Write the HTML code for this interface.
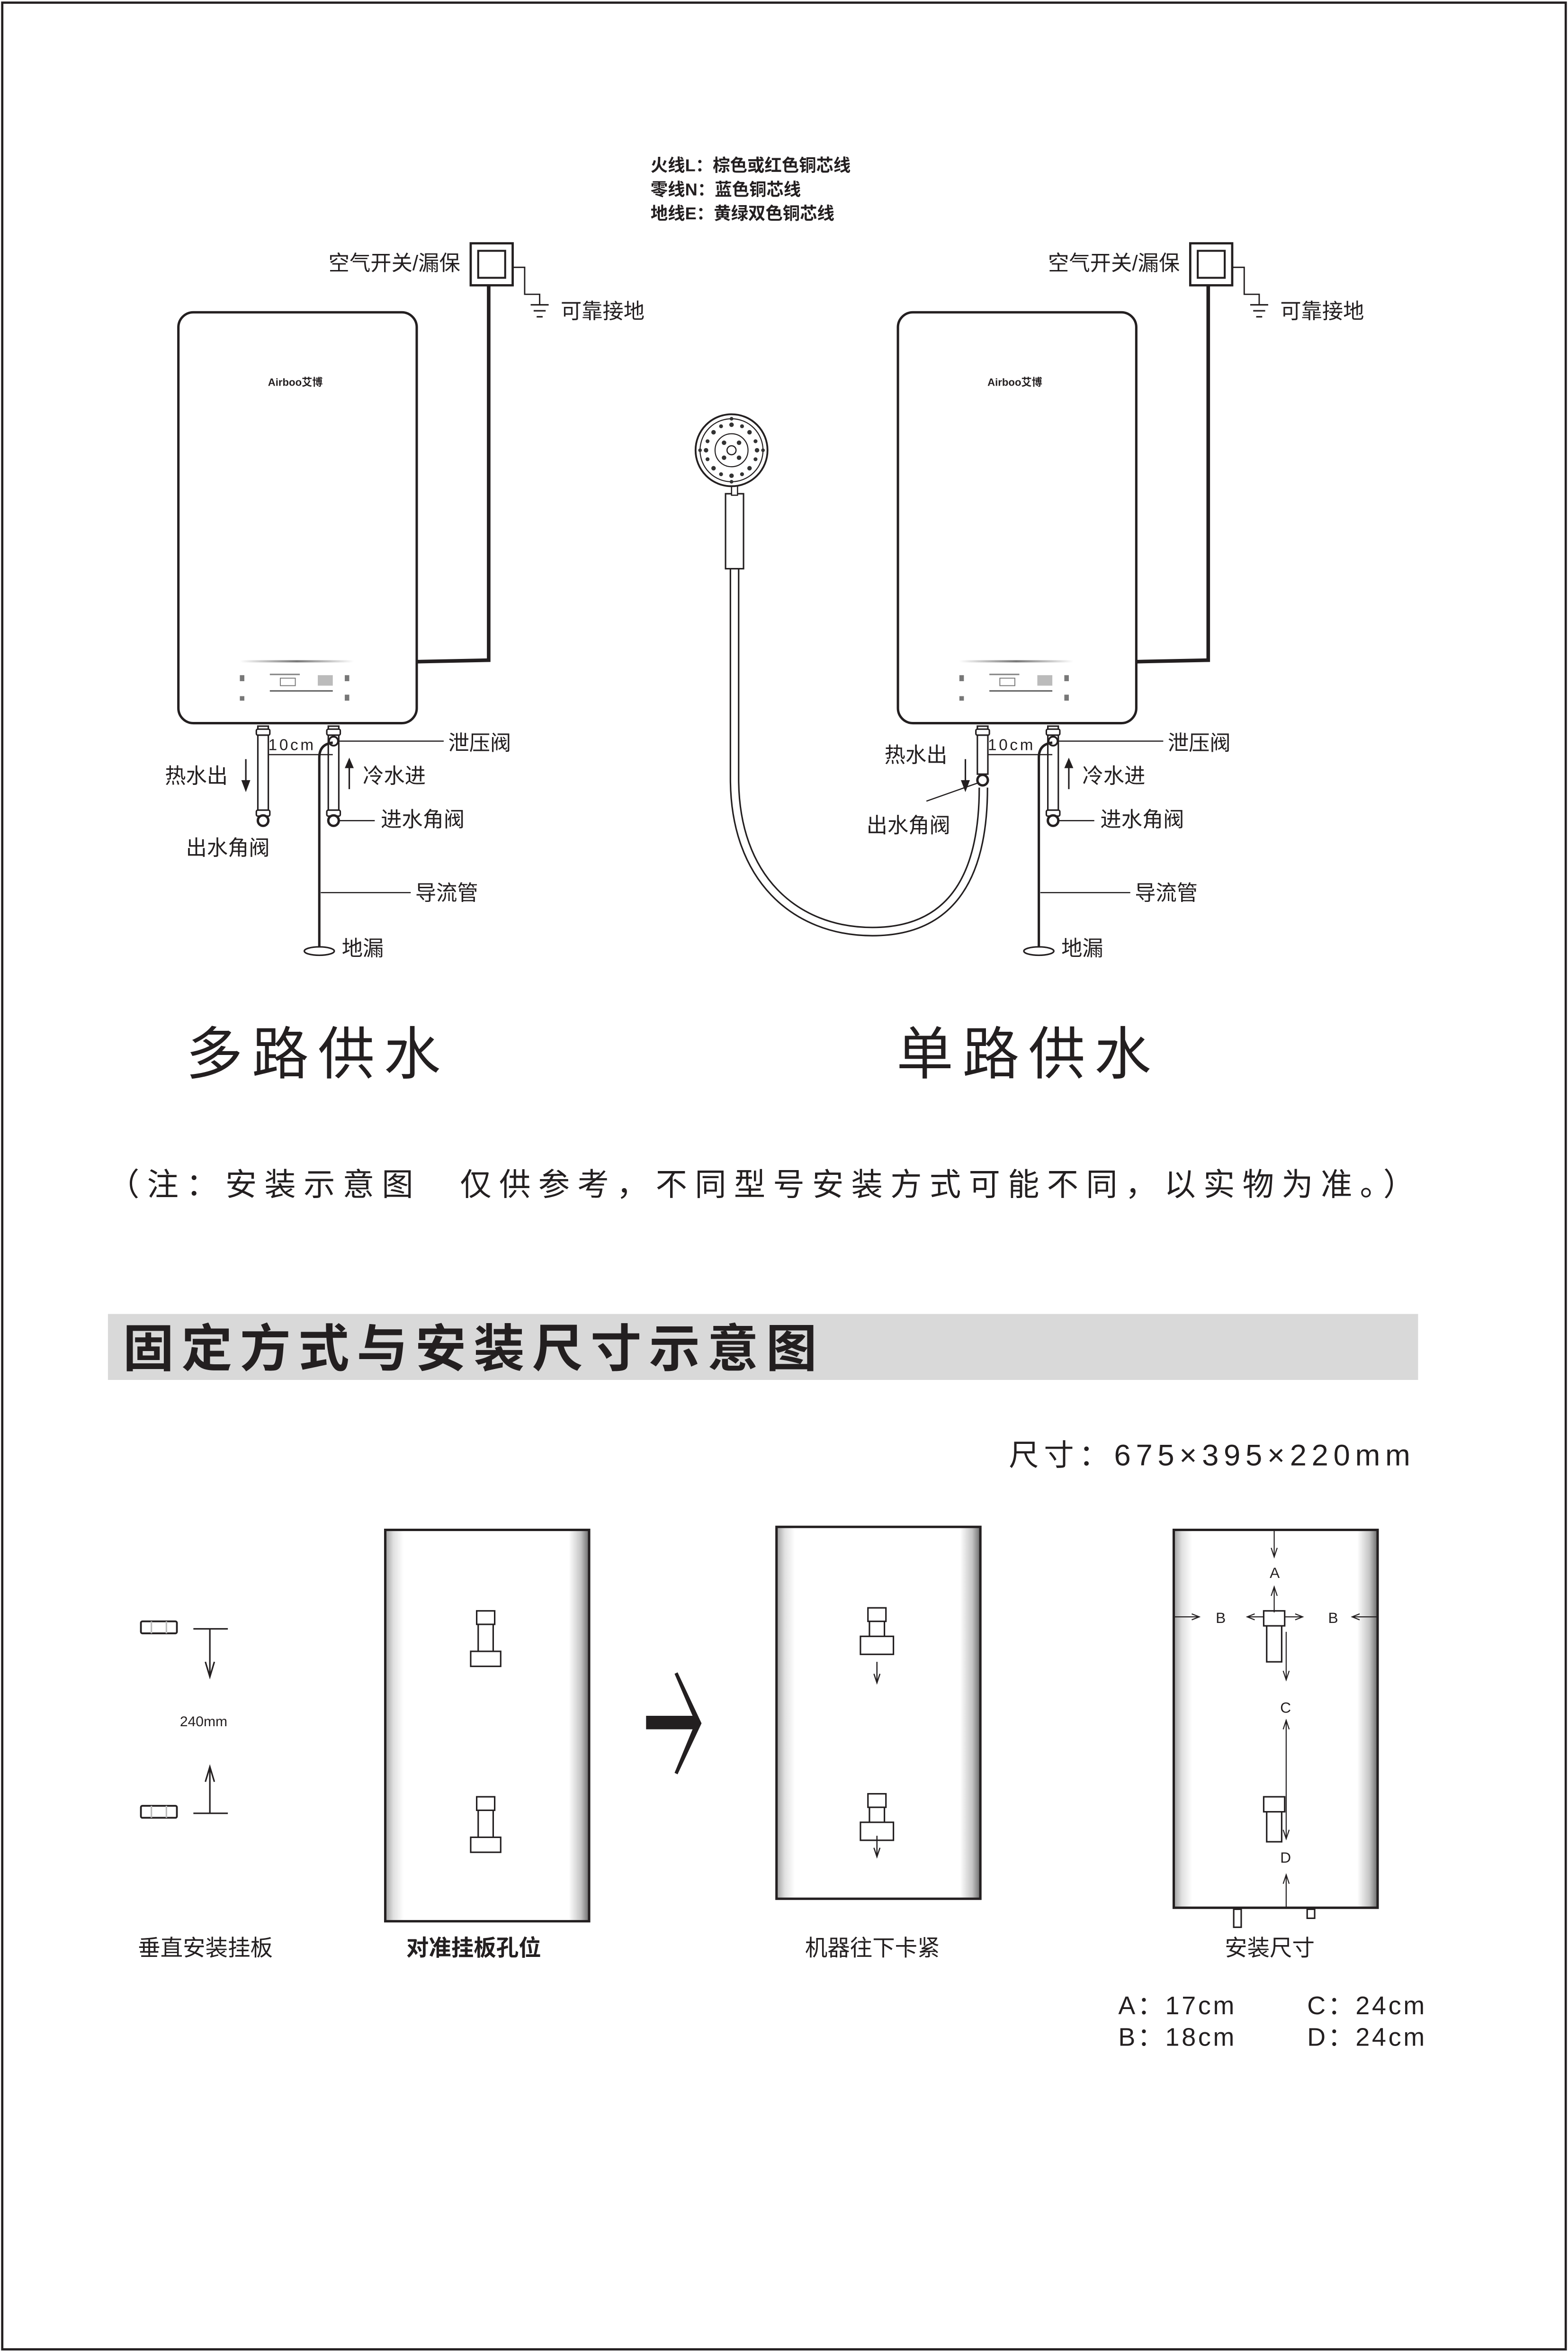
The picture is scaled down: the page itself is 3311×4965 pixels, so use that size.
<!DOCTYPE html>
<html><head><meta charset="utf-8"><style>
html,body{margin:0;padding:0;background:#fff}
svg{display:block}
text{font-family:"Liberation Sans","Noto Sans CJK SC",sans-serif;fill:#231f20}
</style></head><body>
<svg width="3311" height="4965" viewBox="0 0 1046 1568" xmlns="http://www.w3.org/2000/svg">
<defs>
<linearGradient id="pg" x1="0" x2="1" y1="0" y2="0">
<stop offset="0" stop-color="#a0a0a0"/><stop offset="0.04" stop-color="#e0e0e0"/><stop offset="0.09" stop-color="#fff"/><stop offset="0.9" stop-color="#fff"/><stop offset="0.96" stop-color="#c4c4c4"/><stop offset="1" stop-color="#6a6a6a"/>
</linearGradient>
<linearGradient id="bar" x1="0" x2="1"><stop offset="0" stop-color="#fff"/><stop offset="0.5" stop-color="#777"/><stop offset="1" stop-color="#fff"/></linearGradient>
<g id="heater">
 <rect x="119" y="208" width="159" height="274" rx="10" fill="#fff" stroke="#231f20" stroke-width="1.6"/>
 <text x="197" y="257" font-size="7" font-weight="bold" text-anchor="middle">Airboo艾博</text>
 <rect x="160" y="440" width="76" height="1.5" fill="url(#bar)"/>
 <g font-size="3" fill="#555">
  <rect x="160" y="450" width="3" height="4" fill="#777"/><rect x="160" y="464" width="3" height="3" fill="#777"/>
  <rect x="180" y="449" width="20" height="1" fill="#888"/><rect x="187" y="452" width="10" height="5" fill="none" stroke="#777" stroke-width="0.6"/>
  <rect x="180" y="460" width="42" height="1" fill="#666"/><rect x="212" y="450" width="10" height="7" fill="#bbb"/>
  <rect x="230" y="450" width="3" height="4" fill="#777"/><rect x="230" y="463" width="3" height="4" fill="#777"/>
 </g>
</g>
<g id="wiring">
 <rect x="314" y="162" width="28" height="28" fill="#fff" stroke="#231f20" stroke-width="1.5"/>
 <rect x="319" y="167" width="18" height="18" fill="#fff" stroke="#231f20" stroke-width="1.3"/>
 <polyline points="326,190 326,440 278,441" fill="none" stroke="#231f20" stroke-width="2.4"/>
 <polyline points="342,178 350,178 350,196 360,196 360,203" fill="none" stroke="#231f20" stroke-width="0.9"/>
 <line x1="354" y1="203" x2="366" y2="203" stroke="#231f20" stroke-width="1"/>
 <line x1="356" y1="207" x2="364" y2="207" stroke="#231f20" stroke-width="1"/>
 <line x1="358" y1="211" x2="362" y2="211" stroke="#231f20" stroke-width="1"/>
 <text x="307" y="180" font-size="14" text-anchor="end">空气开关/漏保</text>
 <text x="374" y="212" font-size="14">可靠接地</text>
 <rect x="219" y="484" width="7" height="60" fill="#fff" stroke="#231f20" stroke-width="1"/>
 <rect x="218" y="486" width="9" height="4" rx="1" fill="#fff" stroke="#231f20" stroke-width="1"/>
 <circle cx="222.5" cy="494" r="3" fill="#fff" stroke="#231f20" stroke-width="1.2"/>
 <rect x="218" y="540" width="9" height="4" rx="1" fill="#fff" stroke="#231f20" stroke-width="1"/>
 <circle cx="222.5" cy="547" r="3.5" fill="#fff" stroke="#231f20" stroke-width="1.6"/>
 <line x1="226" y1="494" x2="296" y2="494" stroke="#231f20" stroke-width="0.8"/>
 <line x1="226" y1="547" x2="250" y2="547" stroke="#231f20" stroke-width="0.8"/>
 <line x1="233" y1="526" x2="233" y2="510" stroke="#231f20" stroke-width="1"/>
 <path d="M230,512 L233,505 L236,512 Z" fill="#231f20"/>
 <text x="242" y="522" font-size="14">冷水进</text>
 <text x="299" y="500" font-size="14">泄压阀</text>
 <text x="254" y="551" font-size="14">进水角阀</text>
 <path d="M222,495 Q213,496 213,505 L213,632" fill="none" stroke="#231f20" stroke-width="1.6"/>
 <line x1="214" y1="595" x2="274" y2="595" stroke="#231f20" stroke-width="0.8"/>
 <ellipse cx="213" cy="634" rx="10" ry="2.8" fill="#fff" stroke="#231f20" stroke-width="1"/>
 <text x="277" y="600" font-size="14">导流管</text>
 <text x="228" y="637" font-size="14">地漏</text>
 <polyline points="177,490 177,503 222,503" fill="none" stroke="#231f20" stroke-width="0.8"/>
 <text x="179" y="500" font-size="10.5" letter-spacing="1.5">10cm</text>
</g>
</defs>

<rect x="1.5" y="1.5" width="1043" height="1565" fill="#fff" stroke="#231f20" stroke-width="1.5"/>

<text x="434" y="114" font-size="11.5" font-weight="bold">火线L：棕色或红色铜芯线</text>
<text x="434" y="130" font-size="11.5" font-weight="bold">零线N：蓝色铜芯线</text>
<text x="434" y="146" font-size="11.5" font-weight="bold">地线E：黄绿双色铜芯线</text>

<use href="#heater"/>
<use href="#wiring"/>
<rect x="172" y="484" width="7" height="60" fill="#fff" stroke="#231f20" stroke-width="1"/>
<rect x="171" y="486" width="9" height="4" rx="1" fill="#fff" stroke="#231f20" stroke-width="1"/>
<rect x="171" y="540" width="9" height="4" rx="1" fill="#fff" stroke="#231f20" stroke-width="1"/>
<circle cx="175.5" cy="547" r="3.5" fill="#fff" stroke="#231f20" stroke-width="1.6"/>
<line x1="164" y1="506" x2="164" y2="522" stroke="#231f20" stroke-width="1"/>
<path d="M161,520 L164,528 L167,520 Z" fill="#231f20"/>
<text x="110" y="522" font-size="14">热水出</text>
<text x="124" y="570" font-size="14">出水角阀</text>
<text x="124" y="716" font-size="38" letter-spacing="6">多路供水</text>

<g transform="translate(480,0)">
<use href="#heater"/>
<use href="#wiring"/>
</g>
<path d="M490,378 L490,519 C490,585 530,621 582,621 C632,621 656,588 656,525" fill="none" stroke="#231f20" stroke-width="6.5"/>
<path d="M490,378 L490,519 C490,585 530,621 582,621 C632,621 656,588 656,525" fill="none" stroke="#fff" stroke-width="4.5"/>
<rect x="652" y="484" width="7" height="32" fill="#fff" stroke="#231f20" stroke-width="1"/>
<rect x="651" y="486" width="9" height="4" rx="1" fill="#fff" stroke="#231f20" stroke-width="1"/>
<circle cx="655.5" cy="520" r="3.5" fill="#fff" stroke="#231f20" stroke-width="1.6"/>
<line x1="652" y1="522" x2="618" y2="534" stroke="#231f20" stroke-width="0.8"/>
<rect x="484" y="329" width="12" height="50" fill="#fff" stroke="#231f20" stroke-width="1"/>
<rect x="488" y="318" width="4" height="12" fill="#fff" stroke="#231f20" stroke-width="0.8"/>
<circle cx="488" cy="300" r="24" fill="#fff" stroke="#231f20" stroke-width="1.2"/>
<circle cx="488" cy="300" r="21" fill="none" stroke="#231f20" stroke-width="0.7"/>
<circle cx="488" cy="300" r="11" fill="none" stroke="#231f20" stroke-width="0.7"/>
<g fill="#333">
<circle cx="488" cy="283" r="1.5"/><circle cx="488" cy="317" r="1.5"/><circle cx="471" cy="300" r="1.5"/><circle cx="505" cy="300" r="1.5"/>
<circle cx="476" cy="288" r="1.5"/><circle cx="500" cy="288" r="1.5"/><circle cx="476" cy="312" r="1.5"/><circle cx="500" cy="312" r="1.5"/>
<circle cx="481" cy="284" r="1.3"/><circle cx="495" cy="284" r="1.3"/><circle cx="472" cy="294" r="1.3"/><circle cx="504" cy="294" r="1.3"/>
<circle cx="472" cy="306" r="1.3"/><circle cx="504" cy="306" r="1.3"/><circle cx="481" cy="316" r="1.3"/><circle cx="495" cy="316" r="1.3"/>
<circle cx="467" cy="300" r="1.2"/><circle cx="509" cy="300" r="1.2"/><circle cx="488" cy="279" r="1.2"/><circle cx="488" cy="321" r="1.2"/>
<circle cx="483" cy="295" r="1.5"/><circle cx="493" cy="295" r="1.5"/><circle cx="483" cy="305" r="1.5"/><circle cx="493" cy="305" r="1.5"/>
</g>
<circle cx="488" cy="300" r="3" fill="#fff" stroke="#231f20" stroke-width="0.8"/>
<line x1="644" y1="506" x2="644" y2="522" stroke="#231f20" stroke-width="1"/>
<path d="M641,520 L644,528 L647,520 Z" fill="#231f20"/>
<text x="590" y="508" font-size="14">热水出</text>
<text x="578" y="555" font-size="14">出水角阀</text>
<text x="598" y="716" font-size="38" letter-spacing="6">单路供水</text>

<text x="72" y="797" font-size="21" letter-spacing="5.1">（注：安装示意图　仅供参考，不同型号安装方式可能不同，以实物为准。）</text>

<rect x="72" y="876" width="874" height="44" fill="#d9d9d9"/>
<text x="82" y="911" font-size="34" font-weight="bold" letter-spacing="5">固定方式与安装尺寸示意图</text>
<text x="673" y="977" font-size="20" letter-spacing="3.4">尺寸：675×395×220mm</text>

<g stroke="#231f20" fill="#fff">
<rect x="94" y="1081" width="24" height="8" rx="1" stroke-width="1.2"/>
<rect x="94" y="1204" width="24" height="8" rx="1" stroke-width="1.2"/>
</g>
<g stroke="#bbb" stroke-width="1"><line x1="101" y1="1081" x2="101" y2="1089"/><line x1="111" y1="1081" x2="111" y2="1089"/><line x1="101" y1="1204" x2="101" y2="1212"/><line x1="111" y1="1204" x2="111" y2="1212"/></g>
<g stroke="#231f20" stroke-width="1" fill="none">
<line x1="129" y1="1086" x2="152" y2="1086"/><line x1="140" y1="1086" x2="140" y2="1118"/><polyline points="137,1108 140,1118 143,1108"/>
<line x1="129" y1="1209" x2="152" y2="1209"/><line x1="140" y1="1209" x2="140" y2="1178"/><polyline points="137,1188 140,1178 143,1188"/>
</g>
<text x="120" y="1151" font-size="9.5">240mm</text>

<rect x="257" y="1020" width="136" height="261" fill="url(#pg)" stroke="#231f20" stroke-width="1.6"/>
<g stroke="#231f20" stroke-width="1" fill="#fff">
<rect x="319" y="1075" width="10" height="28"/><rect x="318" y="1074" width="12" height="9"/>
<rect x="314" y="1101" width="20" height="10"/>
<rect x="319" y="1199" width="10" height="28"/><rect x="318" y="1198" width="12" height="9"/>
<rect x="314" y="1225" width="20" height="10"/>
</g>
<polygon points="431,1144 462,1144 450,1116 452,1115 468,1149 452,1183 450,1182 462,1153 431,1153" fill="#231f20"/>
<rect x="518" y="1018" width="136" height="248" fill="url(#pg)" stroke="#231f20" stroke-width="1.6"/>
<g stroke="#231f20" stroke-width="1" fill="#fff">
<rect x="580" y="1075" width="10" height="22"/><rect x="579" y="1072" width="12" height="9"/>
<rect x="574" y="1091" width="22" height="12"/>
<rect x="580" y="1199" width="10" height="22"/><rect x="579" y="1196" width="12" height="9"/>
<rect x="574" y="1215" width="22" height="12"/>
</g>
<g stroke="#231f20" stroke-width="0.8" fill="none">
<line x1="585" y1="1108" x2="585" y2="1122"/><polyline points="583,1116 585,1122 587,1116"/>
<line x1="585" y1="1224" x2="585" y2="1238"/><polyline points="583,1232 585,1238 587,1232"/>
</g>
<rect x="783" y="1020" width="136" height="252" fill="url(#pg)" stroke="#231f20" stroke-width="1.6"/>
<g stroke="#231f20" stroke-width="1" fill="#fff">
<rect x="845" y="1082" width="10" height="26"/><rect x="843" y="1074" width="14" height="10"/>
<rect x="845" y="1206" width="10" height="22"/><rect x="843" y="1198" width="14" height="10"/>
<rect x="823" y="1273" width="5" height="12"/><rect x="872" y="1273" width="5" height="6"/>
</g>
<g stroke="#231f20" stroke-width="0.7" fill="none">
<line x1="850" y1="1020" x2="850" y2="1038"/><polyline points="848,1032 850,1038 852,1032"/>
<line x1="850" y1="1058" x2="850" y2="1075"/><polyline points="848,1064 850,1058 852,1064"/>
<line x1="783" y1="1078" x2="800" y2="1078"/><polyline points="795,1076 800,1078 795,1080"/>
<line x1="919" y1="1078" x2="902" y2="1078"/><polyline points="907,1076 902,1078 907,1080"/>
<line x1="832" y1="1078" x2="843" y2="1078"/><polyline points="837,1076 832,1078 837,1080"/>
<line x1="857" y1="1078" x2="869" y2="1078"/><polyline points="864,1076 869,1078 864,1080"/>
<line x1="858" y1="1088" x2="858" y2="1120"/><polyline points="856,1114 858,1120 860,1114"/>
<line x1="858" y1="1147" x2="858" y2="1226"/><polyline points="856,1153 858,1147 860,1153"/><polyline points="856,1220 858,1226 860,1220"/>
<line x1="858" y1="1250" x2="858" y2="1272"/><polyline points="856,1256 858,1250 860,1256"/>
</g>
<g font-size="10"><text x="847" y="1052">A</text><text x="811" y="1082">B</text><text x="886" y="1082">B</text><text x="854" y="1142">C</text><text x="854" y="1242">D</text></g>

<text x="92" y="1304" font-size="15">垂直安装挂板</text>
<text x="271" y="1304" font-size="15" font-weight="bold">对准挂板孔位</text>
<text x="537" y="1304" font-size="15">机器往下卡紧</text>
<text x="817" y="1304" font-size="15">安装尺寸</text>
<g font-size="17" letter-spacing="1.5" font-family="Liberation Mono,monospace">
<text x="746" y="1343">A：17cm</text><text x="746" y="1364">B：18cm</text>
<text x="872" y="1343">C：24cm</text><text x="872" y="1364">D：24cm</text>
</g>
</svg>
</body></html>
